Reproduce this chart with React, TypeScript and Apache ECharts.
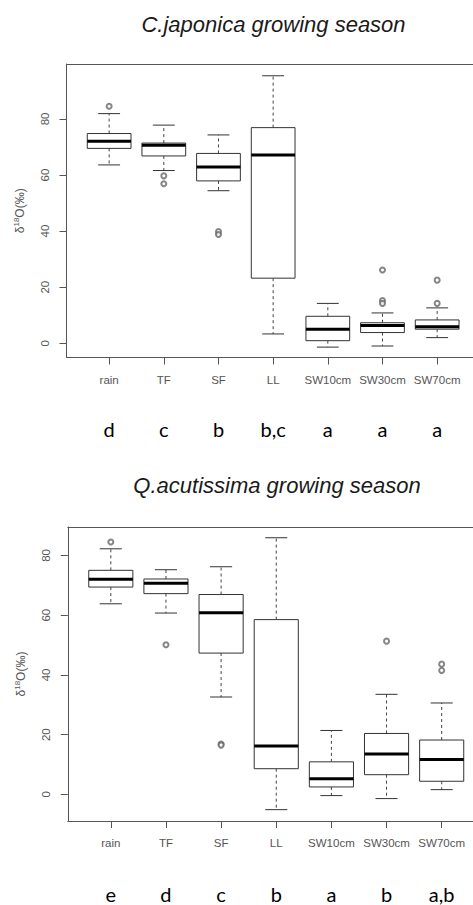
import React, { useEffect, useRef } from "react";
import * as echarts from "echarts";

const categories = ["rain", "TF", "SF", "LL", "SW10cm", "SW30cm", "SW70cm"];
const yTicks = [0, 20, 40, 60, 80];
const lettersTop = ["d", "c", "b", "b,c", "a", "a", "a"];
const lettersBottom = ["e", "d", "c", "b", "a", "b", "a,b"];

// C. japonica growing season
const japLower = [63.6, 61.6, 54.4, 3.3, -1.4, -1.0, 2.0];
const japQ1 = [69.5, 66.8, 57.9, 23.2, 0.9, 3.8, 5.0];
const japMedian = [72.0, 70.6, 62.9, 67.1, 5.0, 6.3, 5.9];
const japQ3 = [74.8, 71.4, 67.7, 76.9, 9.6, 7.3, 8.3];
const japUpper = [81.9, 77.8, 74.3, 95.4, 14.2, 10.8, 12.6];
const japOutliers = [
  [1, 84.5], [2, 59.7], [2, 56.9], [3, 39.8], [3, 38.8],
  [6, 26.1], [6, 15.2], [6, 14.2], [7, 22.5], [7, 14.2],
];

// Q. acutissima growing season
const acuLower = [63.8, 60.7, 32.6, -5.1, -0.4, -1.4, 1.6];
const acuQ1 = [69.4, 67.2, 47.3, 8.6, 2.5, 6.6, 4.4];
const acuMedian = [72.0, 70.7, 60.8, 16.2, 5.2, 13.5, 11.7];
const acuQ3 = [75.0, 72.1, 66.9, 58.5, 10.9, 20.4, 18.2];
const acuUpper = [82.2, 75.2, 76.2, 85.9, 21.4, 33.5, 30.6];
const acuOutliers = [
  [1, 84.5], [2, 50.1], [3, 16.9], [3, 16.5], [6, 51.3], [7, 43.6], [7, 41.5],
];

const catPositions = categories.map((_, i) => i + 1);
const AX = "#555";
const FONT = "'Liberation Sans', Arial, sans-serif";

const renderBox = (params: any, api: any) => {
  const x = api.value(0);
  const lo = api.value(1);
  const q1 = api.value(2);
  const md = api.value(3);
  const q3 = api.value(4);
  const hi = api.value(5);
  const hw = 0.4;
  const cw = 0.2;
  const tl = api.coord([x - hw, q3]);
  const br = api.coord([x + hw, q1]);
  const pHi = api.coord([x, hi]);
  const pLo = api.coord([x, lo]);
  const pQ3 = api.coord([x, q3]);
  const pQ1 = api.coord([x, q1]);
  const mL = api.coord([x - hw, md]);
  const mR = api.coord([x + hw, md]);
  const cHiL = api.coord([x - cw, hi]);
  const cHiR = api.coord([x + cw, hi]);
  const cLoL = api.coord([x - cw, lo]);
  const cLoR = api.coord([x + cw, lo]);
  const dash = { stroke: "#444", lineWidth: 1, lineDash: [3, 3] };
  const solid = { stroke: "#333", lineWidth: 1 };
  return {
    type: "group",
    children: [
      { type: "line", shape: { x1: pQ3[0], y1: pQ3[1], x2: pHi[0], y2: pHi[1] }, style: dash },
      { type: "line", shape: { x1: pQ1[0], y1: pQ1[1], x2: pLo[0], y2: pLo[1] }, style: dash },
      { type: "line", shape: { x1: cHiL[0], y1: cHiL[1], x2: cHiR[0], y2: cHiR[1] }, style: solid },
      { type: "line", shape: { x1: cLoL[0], y1: cLoL[1], x2: cLoR[0], y2: cLoR[1] }, style: solid },
      {
        type: "rect",
        shape: { x: tl[0], y: tl[1], width: br[0] - tl[0], height: br[1] - tl[1] },
        style: { fill: "#fff", stroke: "#333", lineWidth: 1 },
      },
      { type: "line", shape: { x1: mL[0], y1: mL[1], x2: mR[0], y2: mR[1] }, style: { stroke: "#000", lineWidth: 3 } },
    ],
  };
};

function xAxesFor(gridIndex: number, letters: string[], letterMargin: number) {
  const base = { gridIndex, type: "value", min: 0.22, max: 7.78, splitLine: { show: false } };
  return [
    {
      ...base,
      position: "bottom",
      axisLine: { show: true, onZero: false, lineStyle: { color: AX, width: 1 } },
      axisTick: { show: true, customValues: catPositions, length: 7, lineStyle: { color: AX } },
      axisLabel: {
        customValues: catPositions,
        formatter: (v: number) => categories[Math.round(v) - 1] ?? "",
        margin: 16,
        fontSize: 11.5,
        color: AX,
        fontFamily: FONT,
      },
    },
    {
      ...base,
      position: "bottom",
      axisLine: { show: false, onZero: false },
      axisTick: { show: false },
      axisLabel: {
        customValues: catPositions,
        formatter: (v: number) => letters[Math.round(v) - 1] ?? "",
        margin: letterMargin,
        fontSize: 20,
        color: "#000",
        fontFamily: "Lato, 'Open Sans', sans-serif",
      },
    },
    {
      ...base,
      position: "top",
      axisLine: { show: true, onZero: false, lineStyle: { color: AX, width: 1 } },
      axisTick: { show: false },
      axisLabel: { show: false },
    },
  ];
}

function yAxisFor(gridIndex: number, min: number, max: number) {
  return {
    gridIndex,
    type: "value",
    min,
    max,
    position: "left",
    splitLine: { show: false },
    axisLine: { show: true, onZero: false, lineStyle: { color: AX, width: 1 } },
    axisTick: { show: true, customValues: yTicks, length: 7, lineStyle: { color: AX } },
    axisLabel: { customValues: yTicks, rotate: 90, margin: 16, fontSize: 11.5, color: AX, fontFamily: FONT },
    name: "δ{sup|18}O(‰)",
    nameLocation: "middle",
    nameRotate: 90,
    nameGap: 40,
    nameTextStyle: {
      fontSize: 12,
      color: AX,
      fontFamily: FONT,
      lineHeight: 14,
      rich: { sup: { fontSize: 8, color: AX, fontFamily: FONT, verticalAlign: "top", lineHeight: 14 } },
    },
  };
}

function boxData(lo: number[], q1: number[], md: number[], q3: number[], hi: number[]) {
  return categories.map((_, i) => [i + 1, lo[i], q1[i], md[i], q3[i], hi[i]]);
}

const titleStyle = {
  fontSize: 22,
  fontStyle: "italic",
  fontWeight: "normal",
  color: "#1a1a1a",
  fontFamily: FONT,
};

export default function App() {
  const ref = useRef<HTMLDivElement>(null);
  useEffect(() => {
    if (!ref.current) return;
    const chart = echarts.init(ref.current, null, { renderer: "svg" });
    const option: any = {
      animation: false,
      backgroundColor: "#fff",
      title: [
        { text: "C.japonica growing season", left: 273.5, top: 13, textAlign: "center", padding: 0, textStyle: titleStyle },
        { text: "Q.acutissima growing season", left: 277, top: 474.5, textAlign: "center", padding: 0, textStyle: titleStyle },
      ],
      grid: [
        { left: 66.5, top: 64, width: 413.3, height: 293.5, containLabel: false, outerBoundsMode: "none" },
        { left: 67.8, top: 527, width: 416.9, height: 294, containLabel: false, outerBoundsMode: "none" },
      ],
      xAxis: [...xAxesFor(0, lettersTop, 61), ...xAxesFor(1, lettersBottom, 63)],
      yAxis: [yAxisFor(0, -5.1, 99.6), yAxisFor(1, -8.9, 89.5)],
      series: [
        {
          type: "custom",
          xAxisIndex: 0,
          yAxisIndex: 0,
          renderItem: renderBox,
          encode: { x: 0, y: [1, 2, 3, 4, 5] },
          data: boxData(japLower, japQ1, japMedian, japQ3, japUpper),
        },
        {
          type: "scatter",
          xAxisIndex: 0,
          yAxisIndex: 0,
          symbol: "emptyCircle",
          symbolSize: 5,
          itemStyle: { color: "#666", borderColor: "#666", borderWidth: 0.8 },
          data: japOutliers,
        },
        {
          type: "custom",
          xAxisIndex: 3,
          yAxisIndex: 1,
          renderItem: renderBox,
          encode: { x: 0, y: [1, 2, 3, 4, 5] },
          data: boxData(acuLower, acuQ1, acuMedian, acuQ3, acuUpper),
        },
        {
          type: "scatter",
          xAxisIndex: 3,
          yAxisIndex: 1,
          symbol: "emptyCircle",
          symbolSize: 5,
          itemStyle: { color: "#666", borderColor: "#666", borderWidth: 0.8 },
          data: acuOutliers,
        },
      ],
    };
    chart.setOption(option);
    return () => chart.dispose();
  }, []);
  return (
    <div
      style={{
        position: "fixed",
        left: 0,
        top: 0,
        width: 473,
        height: 905,
        overflow: "hidden",
        background: "#fff",
      }}
    >
      <div ref={ref} style={{ width: 490, height: 905 }} />
    </div>
  );
}
